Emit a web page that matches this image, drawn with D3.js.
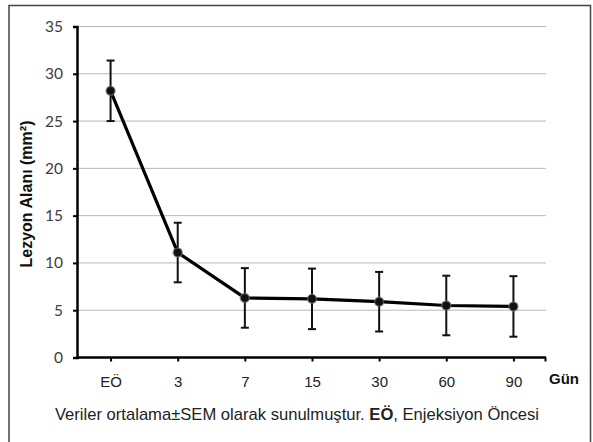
<!DOCTYPE html>
<html>
<head>
<meta charset="utf-8">
<script src="https://cdn.jsdelivr.net/npm/d3@7"></script>
<style>
  body { margin: 0; background: #fff; }
  svg { display: block; }
</style>
</head>
<body>
<div id="plot"></div>
<script>
var categories = ["EÖ", "3", "7", "15", "30", "60", "90"];
var means = [28.2, 11.1, 6.3, 6.2, 5.9, 5.5, 5.4];
var sems = [3.2, 3.15, 3.15, 3.2, 3.15, 3.15, 3.2];
var yTicks = [0, 5, 10, 15, 20, 25, 30, 35];

var data = categories.map(function(c, i) {
  return { cat: c, mean: means[i], sem: sems[i] };
});

var W = 593, H = 442;
// plot area edges
var padL = 77, padR = 547, padT = 26.5, padB = 357.5;

var svg = d3.select("#plot").append("svg")
  .attr("width", W)
  .attr("height", H);

// frame
svg.append("rect")
  .attr("x", 9).attr("y", 5.5)
  .attr("width", 581.5).attr("height", 445)
  .attr("fill", "none")
  .attr("stroke", "#444")
  .attr("stroke-width", 1.5);

var x = d3.scalePoint()
  .domain(categories)
  .range([padL, padR])
  .padding(0.5);

var y = d3.scaleLinear()
  .domain([0, 35])
  .range([padB, padT]);

// gridlines
svg.append("g")
  .selectAll("line")
  .data(yTicks.filter(function(d) { return d > 0; }))
  .enter().append("line")
  .attr("x1", padL).attr("x2", 546)
  .attr("y1", function(d) { return y(d); })
  .attr("y2", function(d) { return y(d); })
  .attr("stroke", "#b8b8b8")
  .attr("stroke-width", 1);

// y axis
var yAxis = d3.axisLeft(y)
  .tickValues(yTicks)
  .tickSize(4)
  .tickPadding(10);

var gy = svg.append("g")
  .attr("transform", "translate(" + padL + ",0)")
  .call(yAxis);
gy.select(".domain").attr("stroke", "#000").attr("stroke-width", 2.5);
gy.selectAll(".tick line").attr("stroke", "#000").attr("stroke-width", 2);
gy.selectAll(".tick text")
  .attr("fill", "#404040")
  .style("font-family", "Lato, 'Open Sans', sans-serif")
  .style("font-size", "15.5px");

// x axis
var xAxis = d3.axisBottom(x)
  .tickSize(4)
  .tickPadding(15);

var gx = svg.append("g")
  .attr("transform", "translate(0," + padB + ")")
  .call(xAxis);
gx.select(".domain")
  .attr("d", "M" + padL + ",0H546")
  .attr("stroke", "#000").attr("stroke-width", 2.5);
gx.selectAll(".tick line").attr("stroke", "#000").attr("stroke-width", 2);
gx.selectAll(".tick text")
  .attr("fill", "#222")
  .style("font-family", "'Liberation Sans', Arial, sans-serif")
  .style("font-size", "15px");
gx.append("line")
  .attr("x1", 545.5).attr("x2", 545.5)
  .attr("y1", 0).attr("y2", 4)
  .attr("stroke", "#000").attr("stroke-width", 2);

// axis titles
svg.append("text")
  .attr("transform", "translate(32,194)rotate(-90)")
  .attr("text-anchor", "middle")
  .style("font-family", "'Liberation Sans', Arial, sans-serif")
  .style("font-size", "16px")
  .style("font-weight", "bold")
  .attr("fill", "#111")
  .text("Lezyon Alanı (mm²)");

svg.append("text")
  .attr("x", 564).attr("y", 384)
  .attr("text-anchor", "middle")
  .style("font-family", "'Liberation Sans', Arial, sans-serif")
  .style("font-size", "15px")
  .style("font-weight", "bold")
  .attr("fill", "#111")
  .text("Gün");

// caption
var cap = svg.append("text")
  .attr("x", 297).attr("y", 420)
  .attr("text-anchor", "middle")
  .style("font-family", "'Liberation Sans', Arial, sans-serif")
  .style("font-size", "16.6px")
  .attr("fill", "#222");
cap.append("tspan").text("Veriler ortalama±SEM olarak sunulmuştur. ");
cap.append("tspan").style("font-weight", "bold").text("EÖ");
cap.append("tspan").text(", Enjeksiyon Öncesi");

// error bars
var eb = svg.append("g").selectAll("g")
  .data(data)
  .enter().append("g");
eb.append("line")
  .attr("x1", function(d) { return x(d.cat); })
  .attr("x2", function(d) { return x(d.cat); })
  .attr("y1", function(d) { return y(d.mean + d.sem); })
  .attr("y2", function(d) { return y(d.mean - d.sem); })
  .attr("stroke", "#111").attr("stroke-width", 2);
eb.append("line")
  .attr("x1", function(d) { return x(d.cat) - 4; })
  .attr("x2", function(d) { return x(d.cat) + 4; })
  .attr("y1", function(d) { return y(d.mean + d.sem); })
  .attr("y2", function(d) { return y(d.mean + d.sem); })
  .attr("stroke", "#111").attr("stroke-width", 2);
eb.append("line")
  .attr("x1", function(d) { return x(d.cat) - 4; })
  .attr("x2", function(d) { return x(d.cat) + 4; })
  .attr("y1", function(d) { return y(d.mean - d.sem); })
  .attr("y2", function(d) { return y(d.mean - d.sem); })
  .attr("stroke", "#111").attr("stroke-width", 2);

// line
var line = d3.line()
  .x(function(d) { return x(d.cat); })
  .y(function(d) { return y(d.mean); });

svg.append("path")
  .datum(data)
  .attr("d", line)
  .attr("fill", "none")
  .attr("stroke", "#000")
  .attr("stroke-width", 3.2)
  .attr("stroke-linejoin", "round");

// markers
svg.append("g").selectAll("circle")
  .data(data)
  .enter().append("circle")
  .attr("cx", function(d) { return x(d.cat); })
  .attr("cy", function(d) { return y(d.mean); })
  .attr("r", 4.5)
  .attr("fill", "#111")
  .attr("stroke", "#777")
  .attr("stroke-opacity", 0.6)
  .attr("stroke-width", 1.5);
</script>
</body>
</html>
